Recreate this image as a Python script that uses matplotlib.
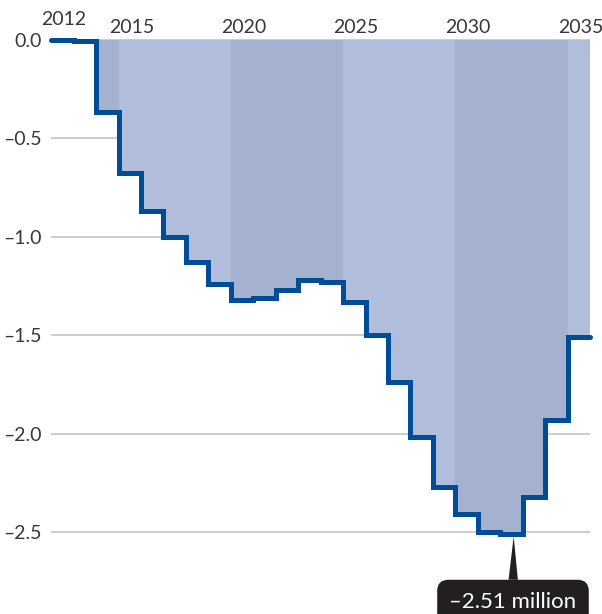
import matplotlib.pyplot as plt
import numpy as np

# change per year, millions
years = list(range(2012, 2036))
values = [0.0, -0.01, -0.37, -0.68, -0.87, -1.00, -1.13, -1.24, -1.32, -1.31,
          -1.27, -1.22, -1.23, -1.33, -1.50, -1.74, -2.02, -2.27, -2.41, -2.50,
          -2.51, -2.32, -1.93, -1.51]
label_years = [2012, 2015, 2020, 2025, 2030, 2035]
ytick_vals = [0.0, -0.5, -1.0, -1.5, -2.0, -2.5]
ytick_labels = ["0.0", "\u20130.5", "\u20131.0", "\u20131.5", "\u20132.0", "\u20132.5"]
dark_bands = [(2009.5, 2014.5), (2019.5, 2024.5), (2029.5, 2034.5)]
min_label = "\u20132.51 million"

plt.rcParams['font.family'] = ['Lato', 'DejaVu Sans']

fig = plt.figure(figsize=(6.02, 6.14), dpi=100)
ax = fig.add_axes([51.25 / 602, 0, (590 - 51.25) / 602, 578.44 / 614])

edges = np.array(years + [years[-1] + 1]) - 0.5
ax.set_xlim(edges[0], edges[-1])
ax.set_ylim(-2.916, 0.02)

# fill under the steps, light, then darker 5-year bands clipped to it
fill = ax.stairs(values, edges, baseline=0, fill=True, color='#b0bedc', zorder=2, lw=0)
for x0, x1 in dark_bands:
    band = ax.axvspan(x0, x1, color='#a5b2cf', lw=0, zorder=2.1)
    band.set_clip_path(fill)

ax.stairs(values, edges, baseline=None, color='#004c97', lw=3.6, zorder=3,
          clip_on=False, capstyle='round', joinstyle='miter')

ax.set_axisbelow(True)
ax.set_yticks(ytick_vals)
ax.set_yticklabels(ytick_labels)
ax.grid(axis='y', color='#cccccc', lw=1.4)
ax.set_xticks([])
ax.tick_params(axis='y', length=0, pad=7, labelsize=14, labelcolor='#383838')
for s in ax.spines.values():
    s.set_visible(False)

for yr in label_years:
    yy = 0.104 if yr == years[0] else 0.063
    ax.text(yr + 0.07, yy, str(yr), ha='center', va='center', fontsize=14,
            color='#383838', clip_on=False)

i_min = int(np.argmin(values))
ax.annotate(min_label, xy=(years[i_min] + 0.1, values[i_min] - 0.012),
            xytext=(years[i_min] + 0.07, -2.855), ha='center', va='center',
            fontsize=16, color='white',
            bbox=dict(boxstyle='round,pad=0.55,rounding_size=0.5', fc='#231f20', ec='none'),
            arrowprops=dict(arrowstyle='wedge,tail_width=0.42,shrink_factor=0.5',
                            fc='#231f20', ec='none', shrinkB=0, shrinkA=0),
            annotation_clip=False, zorder=5)

fig.savefig('out.png', dpi=100)
